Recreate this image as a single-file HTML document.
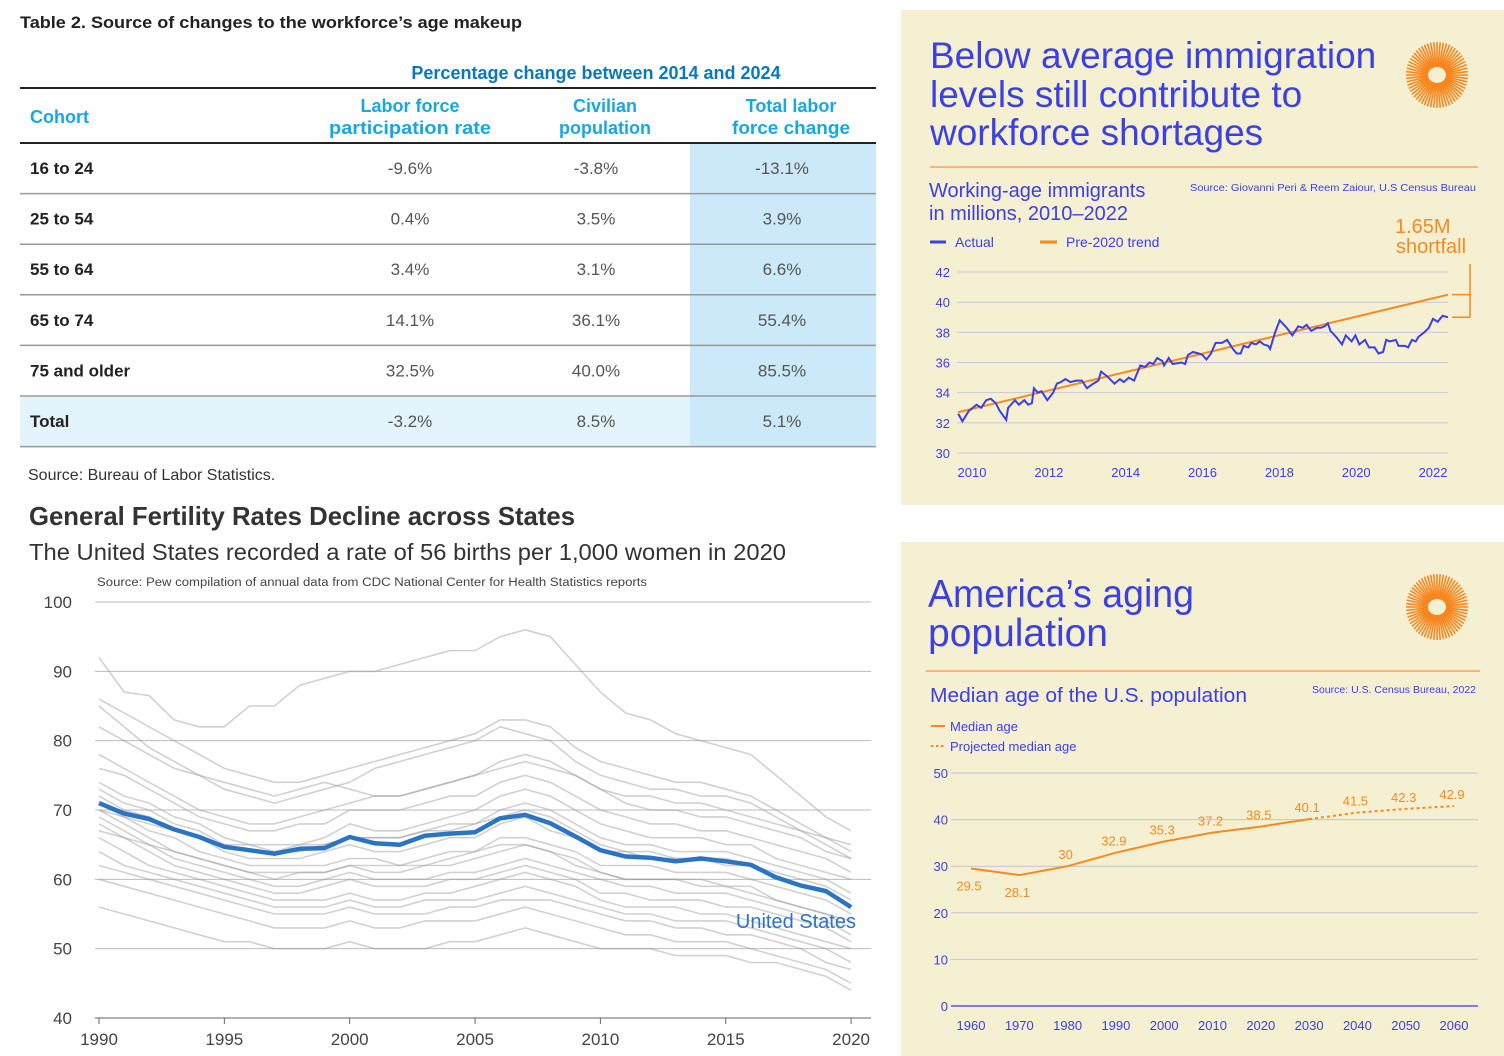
<!DOCTYPE html>
<html><head><meta charset="utf-8"><style>
body{margin:0;background:#fff;}
svg{display:block;font-family:"Liberation Sans",sans-serif;}
</style></head><body>
<svg id="s" width="1504" height="1056" viewBox="0 0 1504 1056" xmlns="http://www.w3.org/2000/svg">
<g>
<text x="20" y="28" font-size="17" font-weight="bold" fill="#222" textLength="502" lengthAdjust="spacingAndGlyphs">Table 2. Source of changes to the workforce’s age makeup</text>
<rect x="690" y="143" width="186" height="304" fill="#cbe9f8"/>
<rect x="20" y="397" width="670" height="50" fill="#e4f4fc"/>
<text x="596" y="79" font-size="18" font-weight="bold" fill="#0b78b8" text-anchor="middle">Percentage change between 2014 and 2024</text>
<line x1="20" y1="88" x2="876" y2="88" stroke="#222" stroke-width="2"/>
<line x1="20" y1="143" x2="876" y2="143" stroke="#222" stroke-width="2"/>
<g font-size="18" font-weight="bold" fill="#16a8e0" text-anchor="middle">
<text x="30" y="123" text-anchor="start">Cohort</text>
<text x="410" y="112">Labor force</text>
<text x="410" y="134" textLength="162" lengthAdjust="spacingAndGlyphs">participation rate</text>
<text x="605" y="112">Civilian</text>
<text x="605" y="134">population</text>
<text x="791" y="112">Total labor</text>
<text x="791" y="134" textLength="118" lengthAdjust="spacingAndGlyphs">force change</text>
</g>
<g id="rows"></g>
<text x="28" y="480" font-size="16" fill="#333">Source: Bureau of Labor Statistics.</text>
</g>
<g id="fert">
<text x="29" y="525" font-size="26" font-weight="bold" fill="#333" textLength="546" lengthAdjust="spacingAndGlyphs">General Fertility Rates Decline across States</text>
<text x="29" y="560" font-size="23" fill="#333" textLength="757" lengthAdjust="spacingAndGlyphs">The United States recorded a rate of 56 births per 1,000 women in 2020</text>
<text x="97" y="586" font-size="11.5" fill="#444" textLength="550" lengthAdjust="spacingAndGlyphs">Source: Pew compilation of annual data from CDC National Center for Health Statistics reports</text>
</g>
<g id="imm">
<rect x="901" y="10" width="603" height="495" fill="#f6f0d3"/>
<g font-size="37" fill="#3a3fe6">
<text x="930" y="68">Below average immigration</text>
<text x="930" y="107">levels still contribute to</text>
<text x="930" y="145">workforce shortages</text>
</g>
<line x1="930" y1="167" x2="1478" y2="167" stroke="#f2a65a" stroke-width="1.5"/>
<text x="929" y="197" font-size="20" fill="#3a3fe6">Working-age immigrants</text>
<text x="929" y="220" font-size="20" fill="#3a3fe6">in millions, 2010–2022</text>
<text x="1476" y="191" font-size="10.5" fill="#3a3fe6" text-anchor="end" textLength="286" lengthAdjust="spacingAndGlyphs">Source: Giovanni Peri &amp; Reem Zaiour, U.S Census Bureau</text>
<line x1="930" y1="242" x2="946" y2="242" stroke="#3a3fe6" stroke-width="3"/>
<text x="955" y="247" font-size="14" fill="#3a3fe6">Actual</text>
<line x1="1040" y1="242" x2="1057" y2="242" stroke="#f58a1f" stroke-width="3"/>
<text x="1066" y="247" font-size="14" fill="#3a3fe6">Pre-2020 trend</text>
<text x="1395" y="233" font-size="20" fill="#f58a1f">1.65M</text>
<text x="1396" y="253" font-size="20" fill="#f58a1f">shortfall</text>
</g>
<g id="age">
<rect x="901" y="542" width="603" height="514" fill="#f6f0d3"/>
<text x="928" y="607" font-size="39" fill="#3a3fe6" textLength="266" lengthAdjust="spacingAndGlyphs">America’s aging</text>
<text x="928" y="646" font-size="39" fill="#3a3fe6">population</text>
<line x1="926" y1="671" x2="1480" y2="671" stroke="#f2a65a" stroke-width="1.5"/>
<text x="930" y="702" font-size="20" fill="#3a3fe6" textLength="317" lengthAdjust="spacingAndGlyphs">Median age of the U.S. population</text>
<text x="1476" y="693" font-size="10.5" fill="#3a3fe6" text-anchor="end">Source: U.S. Census Bureau, 2022</text>
<line x1="931" y1="726" x2="945" y2="726" stroke="#f58a1f" stroke-width="2"/>
<text x="950" y="731" font-size="13" fill="#3a3fe6">Median age</text>
<line x1="931" y1="746" x2="945" y2="746" stroke="#f58a1f" stroke-width="2" stroke-dasharray="2.5,2.5"/>
<text x="950" y="751" font-size="13" fill="#3a3fe6">Projected median age</text>
</g>
</svg>
<script>
const NS="http://www.w3.org/2000/svg";
const svg=document.getElementById('s');
function mk(tag,attrs,parent){const e=document.createElementNS(NS,tag);for(const k in attrs)e.setAttribute(k,attrs[k]);(parent||svg).appendChild(e);return e;}

const cohorts=["16 to 24","25 to 54","55 to 64","65 to 74","75 and older","Total"];
const lfprChange=["-9.6%","0.4%","3.4%","14.1%","32.5%","-3.2%"];
const popChange=["-3.8%","3.5%","3.1%","36.1%","40.0%","8.5%"];
const totalChange=["-13.1%","3.9%","6.6%","55.4%","85.5%","5.1%"];
const rows=document.getElementById('rows');
cohorts.forEach((c,i)=>{
  const y0=143+i*50.6, cy=y0+31;
  const t=mk('text',{x:30,y:cy,'font-size':17,'font-weight':'bold',fill:'#222'},rows);t.textContent=c;
  
  
  [[lfprChange,410],[popChange,596],[totalChange,782]].forEach(([arr,x])=>{
    const v=mk('text',{x:x,y:cy,'font-size':17,fill:'#555','text-anchor':'middle'},rows);v.textContent=arr[i];
    
    
  });
  mk('line',{x1:20,y1:y0+50.6,x2:876,y2:y0+50.6,stroke:'#999','stroke-width':1.5},rows);
});

const fertYears=[];for(let y=1990;y<=2020;y++)fertYears.push(y);
const fertTicksY=[40,50,60,70,80,90,100];
const fertTicksX=[1990,1995,2000,2005,2010,2015,2020];
const usRate=[71,69.5,68.7,67.2,66.1,64.7,64.2,63.7,64.4,64.5,66.1,65.2,65.0,66.3,66.6,66.8,68.8,69.3,68.1,66.2,64.2,63.3,63.1,62.6,63.0,62.6,62.1,60.3,59.1,58.3,56.0];
const s1=[92,87,86.5,83,82,82,85,85,88,89,90,90,91,92,93,93,95,96,95,91,87,84,83,81,80,79,78,75,72,69,67];
const s2=[86,84,82,80,78,76,75,74,74,75,76,77,78,79,80,81,83,83,82,79,77,76,75,74,74,73,72,70,68,66,64];
const s3=[82,80,78,76,75,74,73,72,73,74,73,72,72,73,74,75,76,77,76,75,73,72,72,71,71,70,69,68,67,66,65];
const s4=[78,76,74,72,70,69,68,68,69,70,71,72,72,73,74,75,77,78,77,75,73,71,70,70,69,69,68,67,66,64,63];
const s5=[76,75,73,71,69,68,67,67,68,68,70,70,70,71,72,72,74,75,74,72,70,69,68,68,67,67,66,65,64,63,61];
const s6=[74,72,71,69,68,66,65,65,65,66,68,67,67,68,69,70,72,73,72,70,68,67,66,66,66,65,65,63,62,61,60];
const s7=[73,71,70,68,67,65,64,64,65,65,66,66,66,67,68,68,70,71,70,68,66,65,65,64,64,64,63,62,61,60,58];
const s8=[72,70,69,67,66,64,63,63,63,64,65,64,64,65,66,66,68,69,67,66,64,64,63,63,63,62,62,60,59,58,56];
const s9=[71,69,67,66,64,63,62,62,62,62,63,63,62,63,64,64,66,66,65,64,62,62,62,61,61,61,60,59,58,57,55];
const s10=[70,68,66,64,63,62,61,60,61,61,62,61,61,62,62,63,64,65,64,63,61,60,60,60,60,59,59,57,56,55,53];
const s11=[69,67,65,63,62,61,60,59,59,60,61,60,60,60,61,61,62,63,62,61,60,59,59,58,58,58,57,56,55,54,52];
const s12=[68,66,64,62,61,60,59,58,58,59,60,59,59,59,60,60,61,62,61,60,58,58,57,57,57,56,56,55,54,53,51];
const s13=[66,64,62,61,60,59,58,57,57,57,58,57,57,58,58,59,60,61,60,59,57,56,56,56,55,55,54,53,52,51,50];
const s14=[64,62,61,60,59,58,57,56,56,56,57,56,56,57,57,57,58,59,58,57,56,55,55,54,54,54,53,52,51,50,48];
const s15=[62,61,60,59,58,57,56,55,55,55,56,55,55,55,56,56,57,57,57,56,55,54,54,53,53,52,52,51,50,48,47];
const s16=[60,59,58,57,56,55,54,53,53,53,54,53,53,54,54,54,55,56,55,54,53,52,52,51,51,51,50,49,48,47,45];
const s17=[56,55,54,53,52,51,51,50,50,50,51,50,50,50,51,51,52,53,52,51,50,50,50,49,49,49,48,48,47,46,44];
const s18=[85,82,79,77,75,73,72,71,72,73,74,76,77,78,79,80,82,81,80,77,75,74,73,73,72,72,71,69,67,65,63];
const s19=[70,69,68,67,66,65,65,64,64,65,66,66,66,67,67,68,69,70,69,67,65,64,64,63,63,63,62,61,60,59,57];
const s20=[67,66,65,64,63,62,61,61,61,61,62,62,62,62,63,64,65,65,64,62,61,60,60,60,59,59,58,57,56,55,54];
const states=[s1,s2,s3,s4,s5,s6,s7,s8,s9,s10,s11,s12,s13,s14,s15,s16,s17,s18,s19,s20];
const fx=y=>99+(y-1990)*25.07, fy=v=>1018-(v-40)*6.933;
const fert=document.getElementById('fert');
fertTicksY.forEach(t=>{
  mk('line',{x1:95,x2:871,y1:fy(t),y2:fy(t),stroke:t===40?'#666':'#bbb','stroke-width':1},fert);
  const l=mk('text',{x:72,y:fy(t)+6,'font-size':17,fill:'#444','text-anchor':'end'},fert);l.textContent=t;
  
  
});
fertTicksX.forEach(t=>{
  mk('line',{x1:fx(t),x2:fx(t),y1:1018,y2:1024,stroke:'#666'},fert);
  const l=mk('text',{x:fx(t),y:1045,'font-size':17,fill:'#444','text-anchor':'middle'},fert);l.textContent=t;
  
  
});
const pts=a=>a.map((v,i)=>fx(fertYears[i]).toFixed(1)+','+fy(v).toFixed(1)).join(' ');
states.forEach(a=>{
  const p=mk('polyline',{points:pts(a),fill:'none',stroke:'#9a9a9a','stroke-opacity':0.45,'stroke-width':1.6},fert);
  
  
});
const us=mk('polyline',{points:pts(usRate),fill:'none',stroke:'#2a74c6','stroke-width':4.5,'stroke-linejoin':'round'},fert);


const usl=mk('text',{x:856,y:928,'font-size':20,fill:'#2a74c6','text-anchor':'end'},fert);usl.textContent='United States';



function sun(cx,cy,g){
  for(let i=0;i<60;i++){const a=i/60*Math.PI*2;
    mk('line',{x1:cx+Math.cos(a)*9,y1:cy+Math.sin(a)*8,x2:cx+Math.cos(a)*31,y2:cy+Math.sin(a)*33,stroke:'#f7861e','stroke-width':1.6},g);}
  mk('ellipse',{cx:cx,cy:cy,rx:6,ry:7,fill:'#f6f0d3'},g);
}
const imm=document.getElementById('imm'), age=document.getElementById('age');
sun(1437,75,imm); sun(1437,607,age);

const immTicksY=[30,32,34,36,38,40,42];
const immTicksX=[2010,2012,2014,2016,2018,2020,2022];
const immT=[2009.64,2009.75,2009.92,2010.12,2010.24,2010.37,2010.49,2010.62,2010.72,2010.89,2010.94,2011.12,2011.22,2011.36,2011.46,2011.56,2011.61,2011.71,2011.81,2011.96,2012.11,2012.21,2012.31,2012.43,2012.56,2012.71,2012.86,2012.99,2013.16,2013.29,2013.36,2013.51,2013.71,2013.85,2013.95,2014.08,2014.22,2014.38,2014.50,2014.62,2014.72,2014.82,2014.95,2015.00,2015.12,2015.22,2015.45,2015.55,2015.62,2015.75,2015.90,2016.00,2016.10,2016.22,2016.34,2016.51,2016.64,2016.79,2016.89,2016.99,2017.07,2017.19,2017.27,2017.39,2017.49,2017.59,2017.71,2017.76,2017.89,2018.01,2018.19,2018.34,2018.49,2018.61,2018.71,2018.83,2018.98,2019.08,2019.18,2019.26,2019.33,2019.48,2019.63,2019.73,2019.88,2019.98,2020.08,2020.23,2020.33,2020.48,2020.58,2020.70,2020.78,2020.88,2021.03,2021.10,2021.27,2021.35,2021.45,2021.55,2021.62,2021.77,2021.89,2022.00,2022.12,2022.25,2022.39];
const immV=[32.6,32.1,32.8,33.2,33.0,33.5,33.6,33.3,32.8,32.2,33.0,33.5,33.2,33.5,33.2,33.3,34.3,34.0,34.1,33.5,34.0,34.6,34.7,34.9,34.7,34.8,34.8,34.3,34.6,34.8,35.4,35.1,34.6,34.9,34.7,35.0,34.8,35.8,35.7,36.0,35.9,36.3,36.1,35.8,36.3,35.9,36.0,35.9,36.5,36.7,36.6,36.5,36.2,36.6,37.3,37.3,37.5,36.9,36.6,36.6,37.1,37.0,37.3,37.2,37.4,37.2,37.1,36.9,38.0,38.8,38.3,37.8,38.4,38.3,38.5,38.1,38.3,38.3,38.4,38.6,38.1,37.7,37.2,37.8,37.4,37.8,37.2,37.5,37.0,37.0,36.6,36.7,37.5,37.4,37.5,37.1,37.1,37.0,37.5,37.4,37.7,38.0,38.3,38.9,38.7,39.1,39.0];
const trendT=[2009.64,2022.39];
const trendV=[32.7,40.5];
const ix=t=>972+(t-2010)*38.42, iy=v=>453-(v-30)*15.08;
immTicksY.forEach(t=>{
  mk('line',{x1:957,x2:1448,y1:iy(t),y2:iy(t),stroke:'#c9c6dd','stroke-width':1},imm);
  const l=mk('text',{x:950,y:iy(t)+5,'font-size':13,fill:'#3a3fe6','text-anchor':'end'},imm);l.textContent=t;
  
  
});
immTicksX.forEach(t=>{
  const l=mk('text',{x:ix(t),y:477,'font-size':13,fill:'#3a3fe6','text-anchor':'middle'},imm);l.textContent=t;
  
  
});
const tr=mk('polyline',{points:trendT.map((t,i)=>ix(t)+','+iy(trendV[i])).join(' '),fill:'none',stroke:'#f58a1f','stroke-width':2},imm);


const act=mk('polyline',{points:immT.map((t,i)=>ix(t).toFixed(1)+','+iy(immV[i]).toFixed(1)).join(' '),fill:'none',stroke:'#3a3fe6','stroke-width':2},imm);


const yTop=iy(trendV[1]), yBot=iy(immV[immV.length-1]);
const br=mk('path',{d:`M1452 ${yTop} H1470 M1452 ${yBot} H1470 M1470 264 V${yBot}`,fill:'none',stroke:'#f58a1f','stroke-width':1.5},imm);



const ageYears=[1960,1970,1980,1990,2000,2010,2020,2030];
const ageVals=[29.5,28.1,30,32.9,35.3,37.2,38.5,40.1];
const projYears=[2030,2040,2050,2060];
const projVals=[40.1,41.5,42.3,42.9];
const ageTicksY=[0,10,20,30,40,50];
const ageTicksX=[1960,1970,1980,1990,2000,2010,2020,2030,2040,2050,2060];
const ax=t=>971+(t-1960)*4.83, ay=v=>1006-v*4.66;
ageTicksY.forEach(t=>{
  mk('line',{x1:951,x2:1478,y1:ay(t),y2:ay(t),stroke:t===0?'#5a5ad6':'#c3c0e0','stroke-width':t===0?1.5:1},age);
  const l=mk('text',{x:948,y:ay(t)+5,'font-size':13,fill:'#3a3fe6','text-anchor':'end'},age);l.textContent=t;
  
  
});
ageTicksX.forEach(t=>{
  const l=mk('text',{x:ax(t),y:1030,'font-size':13,fill:'#3a3fe6','text-anchor':'middle'},age);l.textContent=t;
  
  
});
const ml=mk('polyline',{points:ageYears.map((t,i)=>ax(t)+','+ay(ageVals[i])).join(' '),fill:'none',stroke:'#f58a1f','stroke-width':2},age);


const pl=mk('polyline',{points:projYears.map((t,i)=>ax(t)+','+ay(projVals[i])).join(' '),fill:'none',stroke:'#f58a1f','stroke-width':2,'stroke-dasharray':'3,3'},age);


ageYears.concat(projYears.slice(1)).forEach((t,i)=>{
  const v=i<ageVals.length?ageVals[i]:projVals[i-ageVals.length+1];
  const below=i<2;
  const l=mk('text',{x:ax(t)-2,y:below?ay(v)+22:ay(v)-7,'font-size':13,fill:'#f58a1f','text-anchor':'middle'},age);l.textContent=v;
  
  
});
</script>
</body></html>
